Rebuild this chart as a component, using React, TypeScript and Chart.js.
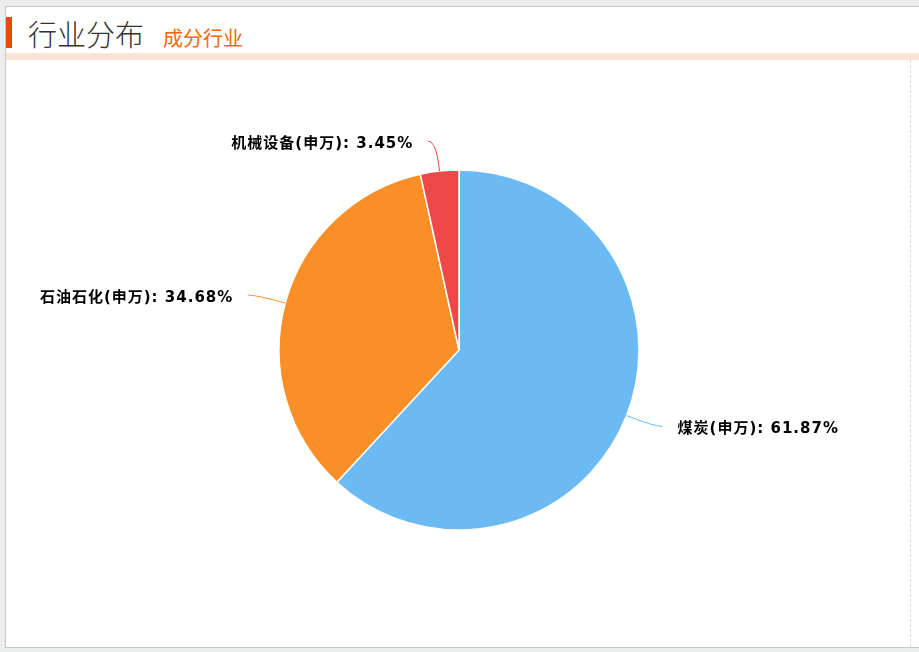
import { Chart, ChartConfiguration, Plugin, registerables } from 'chart.js';
import React, { useEffect, useRef } from 'react';

Chart.register(...registerables);

// Industry breakdown (申万 classification), percent of holdings
const industries = ['煤炭(申万)', '石油石化(申万)', '机械设备(申万)'];
const shares = [61.87, 34.68, 3.45];
const sliceColors = ['#6cbaf3', '#fb8f27', '#ef4848'];

const LABEL_FONT = "bold 15px 'DejaVu Sans', 'Noto Sans CJK SC', sans-serif";

// Draws ECharts-like outside labels with curved leader lines
const outsideLabels: Plugin<'pie'> = {
  id: 'outsideLabels',
  afterDatasetsDraw(chart) {
    const { ctx } = chart;
    const meta = chart.getDatasetMeta(0);
    ctx.save();
    meta.data.forEach((el, i) => {
      const { x, y, startAngle, endAngle, outerRadius } = el.getProps(
        ['x', 'y', 'startAngle', 'endAngle', 'outerRadius'],
        true
      ) as any;
      const mid = (startAngle + endAngle) / 2;
      const dx = Math.cos(mid);
      const dy = Math.sin(mid);
      const sx = x + outerRadius * dx;
      const sy = y + outerRadius * dy;
      const ex = x + (outerRadius + 30) * dx;
      const ey = y + (outerRadius + 30) * dy;
      const right = dx >= 0;
      const fx = ex + (right ? 8 : -8);
      const fy = ey;

      ctx.strokeStyle = sliceColors[i];
      ctx.lineWidth = 1;
      ctx.beginPath();
      ctx.moveTo(sx, sy);
      ctx.quadraticCurveTo(ex, ey, fx, fy);
      ctx.stroke();

      ctx.font = LABEL_FONT;
      (ctx as any).letterSpacing = '1px';
      ctx.fillStyle = '#000';
      ctx.textBaseline = 'middle';
      ctx.textAlign = right ? 'left' : 'right';
      const text = `${industries[i]}: ${shares[i].toFixed(2)}%`;
      ctx.fillText(text, fx + (right ? 15 : -15), fy + 3);
    });
    ctx.restore();
  },
};

function IndustryPie() {
  const canvasRef = useRef<HTMLCanvasElement>(null);

  useEffect(() => {
    if (!canvasRef.current) return;
    const config: ChartConfiguration<'pie'> = {
      type: 'pie',
      data: {
        labels: industries,
        datasets: [
          {
            data: shares,
            backgroundColor: sliceColors,
            borderColor: '#ffffff',
            borderWidth: 1.5,
            radius: 180,
          },
        ],
      },
      options: {
        responsive: false,
        animation: false,
        plugins: {
          legend: { display: false },
          tooltip: { enabled: false },
        },
      },
      plugins: [outsideLabels],
    };
    const chart = new Chart(canvasRef.current, config);
    return () => chart.destroy();
  }, []);

  return <canvas ref={canvasRef} width={906} height={580} style={{ display: 'block' }} />;
}

export default function App() {
  return (
    <div
      style={{
        position: 'fixed',
        left: 0,
        top: 0,
        width: 919,
        height: 652,
        background: '#eceeed',
        overflow: 'hidden',
        fontFamily: "'Noto Sans CJK SC', sans-serif",
      }}
    >
      <div
        style={{
          position: 'absolute',
          left: 5,
          top: 6,
          width: 920,
          height: 640,
          background: '#fff',
          borderLeft: '1px solid #c6c6c6',
          borderTop: '1px solid #c6c6c6',
          borderBottom: '1px solid #c6c6c6',
        }}
      >
        {/* header */}
        <div style={{ position: 'absolute', left: 0, top: 10, width: 6, height: 31, background: '#e8490f' }} />
        <div
          style={{
            position: 'absolute',
            left: 22,
            top: 5,
            height: 40,
            display: 'flex',
            alignItems: 'baseline',
            whiteSpace: 'nowrap',
          }}
        >
          <span style={{ fontSize: 29, color: '#333', fontWeight: 300 }}>行业分布</span>
          <span style={{ fontSize: 20, color: '#f7660a', marginLeft: 19 }}>成分行业</span>
        </div>
        <div style={{ position: 'absolute', left: 0, top: 46, width: 920, height: 7, background: '#fde3d3' }} />
        <div
          style={{
            position: 'absolute',
            left: 904,
            top: 53,
            height: 587,
            borderLeft: '1px dashed #d8d8d8',
          }}
        />
        <div style={{ position: 'absolute', left: 0, top: 53 }}>
          <IndustryPie />
        </div>
      </div>
    </div>
  );
}
